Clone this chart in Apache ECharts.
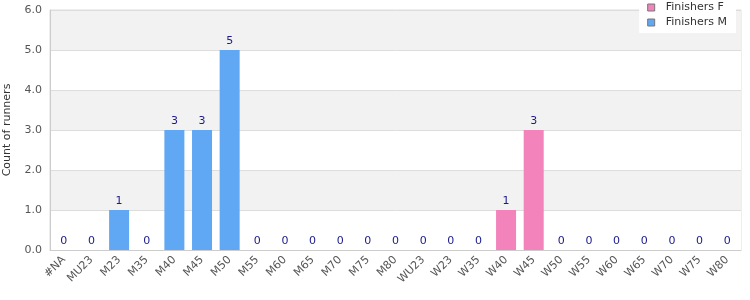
<!DOCTYPE html>
<html><head><meta charset="utf-8">
<script src="https://cdn.jsdelivr.net/npm/echarts@6/dist/echarts.min.js"></script>
<style>html,body{margin:0;padding:0;background:#fff}#c{width:750px;height:300px}</style>
</head><body><div id="c"></div>
<script>
var categories = ['#NA','MU23','M23','M35','M40','M45','M50','M55','M60','M65','M70','M75','M80','WU23','W23','W35','W40','W45','W50','W55','W60','W65','W70','W75','W80'];
var finishersF = [0,0,0,0,0,0,0,0,0,0,0,0,0,0,0,0,1,3,0,0,0,0,0,0,0];
var finishersM = [0,0,1,0,3,3,5,0,0,0,0,0,0,0,0,0,0,0,0,0,0,0,0,0,0];
var yTicks = {min:0, max:6, interval:1};

var chart = echarts.init(document.getElementById('c'), null, {renderer:'canvas'});
chart.setOption({
  animation:false,
  textStyle:{fontFamily:'DejaVu Sans'},
  grid:{left:50,right:9,top:10,bottom:50,containLabel:false,outerBoundsMode:'none',show:true,borderColor:'#dddddd',borderWidth:1,backgroundColor:'transparent'},
  legend:{
    data:['Finishers F','Finishers M'], orient:'vertical', right:14, top:0,
    backgroundColor:'#ffffff', padding:[2,9,5,8], itemGap:4,
    itemWidth:7, itemHeight:7, icon:'rect',
    itemStyle:{borderColor:'#777',borderWidth:1},
    textStyle:{fontSize:11,color:'#333',fontFamily:'DejaVu Sans',padding:[0,0,0,6]}
  },
  xAxis:{
    type:'category', data:categories,
    axisLine:{lineStyle:{color:'#cccccc'}}, axisTick:{show:false},
    axisLabel:{rotate:45, interval:0, fontSize:11, color:'#555', fontFamily:'DejaVu Sans', margin:8}
  },
  yAxis:{
    type:'value', min:yTicks.min, max:yTicks.max, interval:yTicks.interval,
    name:'Count of runners', nameLocation:'middle', nameGap:37, nameRotate:90,
    nameTextStyle:{fontSize:11,color:'#333'},
    axisLine:{show:true,lineStyle:{color:'#cccccc'}},
    axisLabel:{fontSize:11,color:'#555',formatter:function(v){return v.toFixed(1);}},
    splitLine:{lineStyle:{color:'#dddddd'}},
    splitArea:{show:true, areaStyle:{color:['#ffffff','#f2f2f2']}}
  },
  series:[
    {name:'Finishers F', type:'bar', stack:'s', data:finishersF, barWidth:20,
     itemStyle:{color:'#f283bb'}},
    {name:'Finishers M', type:'bar', stack:'s', data:finishersM, barWidth:20,
     itemStyle:{color:'#60a8f4'},
     label:{show:true, position:'top', distance:3, color:'#1a1a8c', fontSize:11,
       formatter:function(p){return String(finishersF[p.dataIndex]+finishersM[p.dataIndex]);}}}
  ]
});
</script></body></html>
